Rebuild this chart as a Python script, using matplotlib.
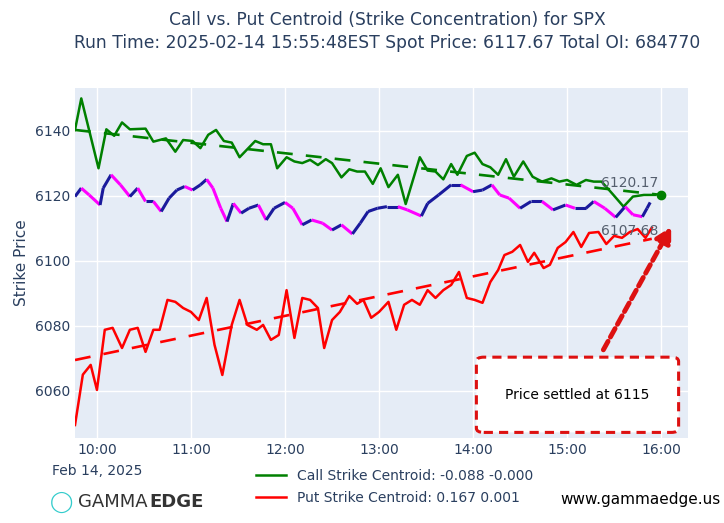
import matplotlib
matplotlib.use("Agg")
import matplotlib.pyplot as plt
import numpy as np
from matplotlib.patches import FancyBboxPatch
from matplotlib.collections import LineCollection

BG = "#E5ECF6"
TXT = "#2a3f5f"

CALL_TIMES = ["09:46", "09:50", "10:01", "10:06", "10:11", "10:16", "10:21", "10:31", "10:36", "10:44",
              "10:50", "10:55", "11:01", "11:06", "11:11", "11:16", "11:21", "11:26", "11:31", "11:41",
              "11:46", "11:51", "11:55", "12:01", "12:06", "12:11", "12:16", "12:21", "12:26", "12:30",
              "12:36", "12:41", "12:46", "12:51", "12:56", "13:01", "13:06", "13:12", "13:17", "13:26",
              "13:31", "13:36", "13:41", "13:46", "13:50", "13:56", "14:01", "14:06", "14:11", "14:16",
              "14:21", "14:26", "14:32", "14:38", "14:44", "14:50", "14:55", "15:00", "15:06", "15:12",
              "15:17", "15:22", "15:29", "15:36", "15:42", "15:49", "15:56"]
CALL_VALUES = [6140.3, 6150.0, 6128.5, 6140.5, 6138.5, 6142.6, 6140.5, 6140.7, 6136.7, 6137.7,
               6133.6, 6137.2, 6136.9, 6134.7, 6138.8, 6140.3, 6136.9, 6136.4, 6131.9, 6136.9,
               6135.9, 6135.9, 6128.5, 6131.9, 6130.6, 6130.1, 6131.1, 6129.5, 6131.3, 6130.1,
               6125.7, 6128.2, 6127.5, 6127.5, 6123.7, 6128.5, 6122.7, 6126.5, 6117.5, 6131.9,
               6127.8, 6127.5, 6125.1, 6129.8, 6126.5, 6132.3, 6133.3, 6129.8, 6128.8, 6126.5,
               6131.3, 6125.9, 6130.6, 6125.9, 6124.4, 6125.4, 6124.4, 6124.9, 6123.4, 6124.9,
               6124.4, 6124.4, 6120.6, 6116.7, 6119.8, 6120.3, 6120.3]

PUT_TIMES = ["09:46", "09:51", "09:56", "10:00", "10:05", "10:10", "10:16", "10:21", "10:26", "10:31",
             "10:36", "10:40", "10:45", "10:50", "10:55", "11:00", "11:05", "11:10", "11:15", "11:20",
             "11:26", "11:31", "11:36", "11:42", "11:46", "11:51", "11:56", "12:01", "12:06", "12:11",
             "12:16", "12:21", "12:25", "12:30", "12:35", "12:41", "12:46", "12:50", "12:55", "13:00",
             "13:06", "13:11", "13:16", "13:21", "13:26", "13:31", "13:36", "13:41", "13:46", "13:51",
             "13:56", "14:01", "14:06", "14:11", "14:16", "14:20", "14:25", "14:30", "14:35", "14:39",
             "14:45", "14:49", "14:54", "14:59", "15:04", "15:09", "15:14", "15:20", "15:25", "15:30",
             "15:35", "15:40", "15:45", "15:50", "15:54"]
PUT_VALUES = [6049.5, 6065.0, 6068.0, 6060.3, 6078.8, 6079.4, 6073.2, 6078.8, 6079.4, 6072.0,
              6078.8, 6078.8, 6088.0, 6087.4, 6085.5, 6084.3, 6081.8, 6088.6, 6074.2, 6064.9,
              6080.3, 6088.0, 6080.3, 6078.8, 6080.3, 6075.7, 6077.2, 6091.0, 6076.3, 6088.6,
              6088.0, 6085.5, 6073.2, 6081.8, 6084.3, 6089.2, 6086.8, 6088.0, 6082.5, 6084.3,
              6087.4, 6078.8, 6086.5, 6088.0, 6086.5, 6091.0, 6088.6, 6091.0, 6092.6, 6096.6,
              6088.6, 6088.0, 6087.1, 6093.5, 6097.2, 6101.8, 6102.8, 6104.9, 6099.7, 6102.5,
              6097.8, 6098.8, 6104.0, 6105.8, 6108.9, 6104.3, 6108.6, 6108.9, 6105.2, 6107.7,
              6107.1, 6108.9, 6109.8, 6107.1, 6110.2]

SPOT_TIMES = ["09:46", "09:50", "09:55", "10:02", "10:04", "10:09", "10:15", "10:21", "10:26", "10:31",
              "10:36", "10:41", "10:46", "10:51", "10:56", "11:01", "11:06", "11:10", "11:14", "11:19",
              "11:23", "11:27", "11:32", "11:37", "11:43", "11:48", "11:53", "12:00", "12:05", "12:11",
              "12:17", "12:24", "12:30", "12:36", "12:43", "12:48", "12:53", "12:59", "13:05", "13:12",
              "13:18", "13:27", "13:31", "13:38", "13:46", "13:52", "14:00", "14:06", "14:12", "14:17",
              "14:23", "14:30", "14:37", "14:44", "14:51", "14:59", "15:05", "15:12", "15:17", "15:24",
              "15:31", "15:37", "15:42", "15:48", "15:51", "15:53"]
SPOT_VALUES = [6119.8, 6122.4, 6120.3, 6117.2, 6122.4, 6126.5, 6123.4, 6119.8, 6122.4, 6118.3,
               6118.3, 6115.2, 6119.3, 6121.8, 6122.9, 6121.8, 6123.4, 6125.1, 6122.4, 6116.2,
               6112.1, 6117.7, 6114.7, 6116.2, 6117.2, 6112.6, 6116.2, 6118.0, 6116.2, 6111.1,
               6112.6, 6111.6, 6109.5, 6111.1, 6108.3, 6111.6, 6115.2, 6116.2, 6116.7, 6116.7,
               6115.7, 6113.8, 6117.7, 6120.3, 6123.4, 6123.4, 6121.3, 6121.8, 6123.4, 6120.3,
               6119.3, 6116.2, 6118.3, 6118.3, 6115.7, 6117.2, 6116.2, 6116.2, 6118.3, 6116.2,
               6113.4, 6116.7, 6114.2, 6113.6, 6116.2, 6118.0]

CALL_TREND = [("09:46", 6140.3), ("16:00", 6120.3)]
PUT_TREND = [("09:46", 6069.5), ("15:54", 6106.8)]
CALL_LAST = ("16:00", 6120.17)
SPOT_LOW_LABEL = 6107.68
TICK_HOURS = [10, 11, 12, 13, 14, 15, 16]


def hours(t):
    h, m = t.split(":")
    return int(h) + int(m) / 60


fig = plt.figure(figsize=(7.24, 5.23), dpi=100)
ax = fig.add_axes([0.1036, 0.1625, 0.8464, 0.6692])
ax.set_facecolor(BG)
for s in ax.spines.values():
    s.set_visible(False)
ax.grid(True, color="white", linewidth=1.0)
ax.set_axisbelow(True)
ax.tick_params(length=0, colors=TXT, labelsize=10)

ct = [hours(t) for t in CALL_TIMES]
pt = [hours(t) for t in PUT_TIMES]
st = [hours(t) for t in SPOT_TIMES]

ax.plot(ct, CALL_VALUES, color="green", linewidth=1.8, label="Call Strike Centroid: -0.088 -0.000")
ax.plot(pt, PUT_VALUES, color="red", linewidth=1.8, label="Put Strike Centroid: 0.167 0.001")
ax.plot([hours(a) for a, _ in CALL_TREND], [v for _, v in CALL_TREND], color="green", linestyle=(0, (6, 5)), linewidth=1.9)
ax.plot([hours(a) for a, _ in PUT_TREND], [v for _, v in PUT_TREND], color="red", linestyle=(0, (6, 5)), linewidth=1.9)

pts = np.column_stack([st, SPOT_VALUES])
segs = np.stack([pts[:-1], pts[1:]], axis=1)
cols = ["#1a1a9c" if b >= a else "#ff00ff" for a, b in zip(SPOT_VALUES[:-1], SPOT_VALUES[1:])]
ax.add_collection(LineCollection(segs, colors=cols, linewidths=2.2))

ax.plot([hours(CALL_LAST[0])], [CALL_LAST[1]], "o", color="green", markersize=6)
ax.text(hours("15:40"), CALL_LAST[1] + 1.5, f"{CALL_LAST[1]:.2f}", color="#555f6e", fontsize=10, ha="center", va="bottom")
ax.text(hours("15:40"), SPOT_LOW_LABEL - 0.5, f"{SPOT_LOW_LABEL:.2f}", color="#555f6e", fontsize=10, ha="center", va="bottom")

ax.set_xlim(hours("09:46"), hours("16:17"))
ax.set_ylim(6045.5, 6153.2)
ax.set_xticks(TICK_HOURS)
ax.set_xticklabels([f"{h}:00" for h in TICK_HOURS])
ax.set_yticks([6060, 6080, 6100, 6120, 6140])
ax.set_ylabel("Strike Price", color=TXT, fontsize=11)

box = FancyBboxPatch((0.655, 0.016), 0.33, 0.215, transform=ax.transAxes,
                     boxstyle="round,pad=0,rounding_size=0.012", facecolor="white",
                     edgecolor="#dd1111", linewidth=2.2, linestyle=(0, (3, 2)), zorder=6)
ax.add_patch(box)
ax.text(0.82, 0.124, "Price settled at 6115", transform=ax.transAxes, ha="center", va="center",
        fontsize=10, color="black", zorder=7)
ax.annotate("", xy=(0.975, 0.61), xytext=(0.86, 0.245), xycoords="axes fraction",
            arrowprops=dict(arrowstyle="-|>,head_width=0.5,head_length=0.9", color="#dd1111",
                            linewidth=3.5, linestyle=(0, (2, 1))), zorder=7)

fig.text(0.535, 0.962, "Call vs. Put Centroid (Strike Concentration) for SPX", ha="center", va="center",
         fontsize=12.3, color=TXT)
fig.text(0.535, 0.918, "Run Time: 2025-02-14 15:55:48EST Spot Price: 6117.67 Total OI: 684770", ha="center",
         va="center", fontsize=12.3, color=TXT)
fig.text(0.072, 0.10, "Feb 14, 2025", fontsize=10, color=TXT, va="center")

fig.legend(loc="center", bbox_to_anchor=(0.545, 0.069), frameon=False, fontsize=10,
           labelcolor=TXT, handlelength=2.2, labelspacing=0.6)
fig.text(0.108, 0.04, "GAMMA", fontsize=13, color="#333333", va="center")
fig.text(0.206, 0.04, "EDGE", fontsize=13, color="#333333", va="center", fontweight="bold")
fig.text(0.085, 0.04, "\u25EF", fontsize=15, color="#33cccc", va="center", ha="center")
fig.text(0.995, 0.045, "www.gammaedge.us", fontsize=11, color="black", va="center", ha="right")

fig.savefig("out.png", dpi=100)
